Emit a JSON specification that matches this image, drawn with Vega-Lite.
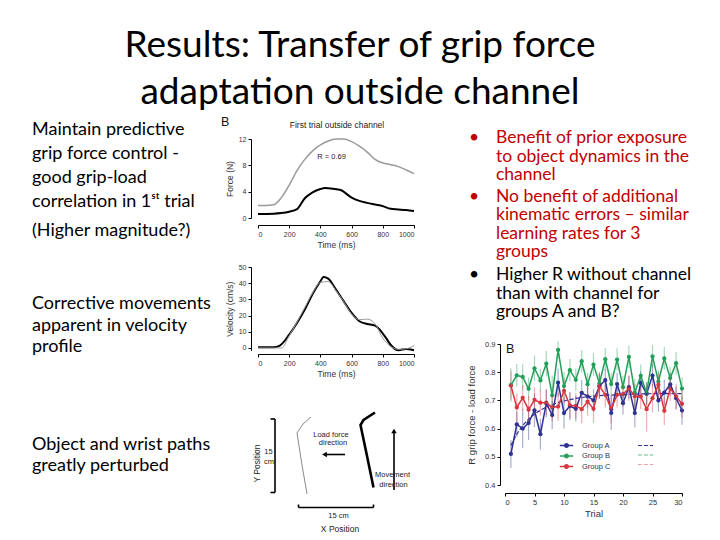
{
  "$schema": "https://vega.github.io/schema/vega-lite/v6.json",
  "width": 720,
  "height": 540,
  "autosize": {"type": "none"},
  "padding": 0,
  "background": "white",
  "config": {
    "view": {"stroke": null},
    "scale": {"pointPadding": 0},
    "axis": {
      "grid": false, "domainColor": "#000", "tickColor": "#000", "tickSize": 3,
      "labelColor": "#333", "titleColor": "#333", "labelFont": "Liberation Sans", "titleFont": "Liberation Sans",
      "labelFontSize": 7, "titleFontSize": 8.5, "titleFontWeight": "normal", "labelPadding": 2
    },
    "text": {"font": "Lato"}
  },
  "resolve": {"scale": {"x": "independent", "y": "independent", "color": "independent", "strokeWidth": "independent", "shape": "independent"}},
  "datasets": {
    "force": [
      {"t": 0, "f": 1.9, "s": "Load force"}, {"t": 50, "f": 1.9, "s": "Load force"}, {"t": 100, "f": 2.0, "s": "Load force"},
      {"t": 150, "f": 3.1, "s": "Load force"}, {"t": 200, "f": 5.0, "s": "Load force"}, {"t": 250, "f": 7.2, "s": "Load force"},
      {"t": 300, "f": 8.9, "s": "Load force"}, {"t": 350, "f": 10.2, "s": "Load force"}, {"t": 400, "f": 11.1, "s": "Load force"},
      {"t": 450, "f": 11.7, "s": "Load force"}, {"t": 500, "f": 12.0, "s": "Load force"}, {"t": 550, "f": 12.0, "s": "Load force"},
      {"t": 600, "f": 11.6, "s": "Load force"}, {"t": 650, "f": 10.9, "s": "Load force"}, {"t": 700, "f": 10.0, "s": "Load force"},
      {"t": 750, "f": 8.9, "s": "Load force"}, {"t": 800, "f": 8.35, "s": "Load force"}, {"t": 850, "f": 8.1, "s": "Load force"},
      {"t": 900, "f": 7.8, "s": "Load force"}, {"t": 950, "f": 7.3, "s": "Load force"}, {"t": 1000, "f": 6.75, "s": "Load force"},
      {"t": 0, "f": 0.62, "s": "Grip force"}, {"t": 100, "f": 0.66, "s": "Grip force"}, {"t": 150, "f": 0.75, "s": "Grip force"},
      {"t": 200, "f": 0.95, "s": "Grip force"}, {"t": 250, "f": 1.35, "s": "Grip force"}, {"t": 300, "f": 3.0, "s": "Grip force"},
      {"t": 350, "f": 3.9, "s": "Grip force"}, {"t": 400, "f": 4.4, "s": "Grip force"}, {"t": 430, "f": 4.55, "s": "Grip force"},
      {"t": 480, "f": 4.45, "s": "Grip force"}, {"t": 530, "f": 4.25, "s": "Grip force"}, {"t": 600, "f": 3.1, "s": "Grip force"},
      {"t": 650, "f": 2.6, "s": "Grip force"}, {"t": 700, "f": 2.3, "s": "Grip force"}, {"t": 750, "f": 2.05, "s": "Grip force"},
      {"t": 800, "f": 1.8, "s": "Grip force"}, {"t": 850, "f": 1.4, "s": "Grip force"}, {"t": 900, "f": 1.3, "s": "Grip force"},
      {"t": 950, "f": 1.2, "s": "Grip force"}, {"t": 1000, "f": 1.05, "s": "Grip force"}
    ],
    "velocity": [
      {"t": 0, "v": 0.5, "s": "First trial"}, {"t": 100, "v": 0.5, "s": "First trial"}, {"t": 140, "v": 1.5, "s": "First trial"},
      {"t": 200, "v": 8.2, "s": "First trial"}, {"t": 250, "v": 15.4, "s": "First trial"}, {"t": 300, "v": 23.7, "s": "First trial"},
      {"t": 350, "v": 33.3, "s": "First trial"}, {"t": 400, "v": 41.2, "s": "First trial"}, {"t": 420, "v": 43.8, "s": "First trial"},
      {"t": 450, "v": 42.8, "s": "First trial"}, {"t": 500, "v": 36, "s": "First trial"}, {"t": 550, "v": 28.8, "s": "First trial"},
      {"t": 600, "v": 21.6, "s": "First trial"}, {"t": 650, "v": 16.5, "s": "First trial"}, {"t": 700, "v": 14.8, "s": "First trial"},
      {"t": 750, "v": 13.8, "s": "First trial"}, {"t": 780, "v": 11.3, "s": "First trial"}, {"t": 820, "v": 6.2, "s": "First trial"},
      {"t": 850, "v": 2, "s": "First trial"}, {"t": 900, "v": -1.4, "s": "First trial"}, {"t": 950, "v": -0.6, "s": "First trial"},
      {"t": 1000, "v": -1.4, "s": "First trial"},
      {"t": 0, "v": 0, "s": "Reference"}, {"t": 150, "v": 0, "s": "Reference"}, {"t": 200, "v": 7.5, "s": "Reference"},
      {"t": 250, "v": 16, "s": "Reference"}, {"t": 300, "v": 25, "s": "Reference"}, {"t": 350, "v": 34, "s": "Reference"},
      {"t": 400, "v": 40.5, "s": "Reference"}, {"t": 450, "v": 41, "s": "Reference"}, {"t": 500, "v": 35.5, "s": "Reference"},
      {"t": 550, "v": 28.5, "s": "Reference"}, {"t": 600, "v": 21, "s": "Reference"}, {"t": 650, "v": 17.5, "s": "Reference"},
      {"t": 700, "v": 17.8, "s": "Reference"}, {"t": 750, "v": 15, "s": "Reference"}, {"t": 800, "v": 6, "s": "Reference"},
      {"t": 850, "v": 1, "s": "Reference"}, {"t": 900, "v": -0.8, "s": "Reference"}, {"t": 950, "v": -0.5, "s": "Reference"},
      {"t": 1000, "v": 1.5, "s": "Reference"}
    ],
    "paths": [
      {"p": "Object", "i": 1, "x": 13.2, "y": 9.6}, {"p": "Object", "i": 2, "x": 12.2, "y": 15.4}, {"p": "Object", "i": 3, "x": 11.2, "y": 21.8},
      {"p": "Object", "i": 4, "x": 12.4, "y": 23.6}, {"p": "Object", "i": 5, "x": 14.0, "y": 25.0},
      {"p": "Wrist", "i": 1, "x": 26.5, "y": 10.9}, {"p": "Wrist", "i": 2, "x": 25.1, "y": 17.7}, {"p": "Wrist", "i": 3, "x": 23.9, "y": 23.4},
      {"p": "Wrist", "i": 4, "x": 24.5, "y": 24.4}, {"p": "Wrist", "i": 5, "x": 26.8, "y": 25.9}
    ],
    "segments": [
      {"x": 6.8, "y": 9.9, "x2": 6.8, "y2": 24.6}, {"x": 5.9, "y": 24.6, "x2": 6.8, "y2": 24.6}, {"x": 5.9, "y": 9.9, "x2": 6.8, "y2": 9.9},
      {"x": 11.5, "y": 6.9, "x2": 26.5, "y2": 6.9}, {"x": 11.5, "y": 6.9, "x2": 11.5, "y2": 7.5}, {"x": 26.5, "y": 6.9, "x2": 26.5, "y2": 7.5},
      {"x": 20.8, "y": 17.5, "x2": 17.0, "y2": 17.5}, {"x": 30.6, "y": 10.4, "x2": 30.6, "y2": 21.8}
    ],
    "heads": [
      {"x": 16.7, "y": 17.5, "dir": "left"}, {"x": 30.6, "y": 22.2, "dir": "up"}
    ],
    "pathLabels": [
      {"x": 19.5, "y": 5.3, "label": "15 cm"}, {"x": 5.5, "y": 18.1, "label": "15"}, {"x": 5.6, "y": 16.1, "label": "cm"},
      {"x": 18.0, "y": 21.4, "label": "Load force"}, {"x": 18.4, "y": 19.8, "label": "direction"},
      {"x": 30.3, "y": 13.4, "label": "Movement"}, {"x": 30.5, "y": 11.4, "label": "direction"}
    ],
    "rdata": [
      {"trial": 1, "g": "Group A", "r": 0.51, "se": 0.05}, {"trial": 2, "g": "Group A", "r": 0.615, "se": 0.045}, {"trial": 3, "g": "Group A", "r": 0.6, "se": 0.07},
      {"trial": 4, "g": "Group A", "r": 0.62, "se": 0.06}, {"trial": 5, "g": "Group A", "r": 0.665, "se": 0.06}, {"trial": 6, "g": "Group A", "r": 0.58, "se": 0.055},
      {"trial": 7, "g": "Group A", "r": 0.69, "se": 0.05}, {"trial": 8, "g": "Group A", "r": 0.648, "se": 0.05}, {"trial": 9, "g": "Group A", "r": 0.763, "se": 0.05},
      {"trial": 10, "g": "Group A", "r": 0.655, "se": 0.055}, {"trial": 11, "g": "Group A", "r": 0.68, "se": 0.05}, {"trial": 12, "g": "Group A", "r": 0.67, "se": 0.045},
      {"trial": 13, "g": "Group A", "r": 0.727, "se": 0.045}, {"trial": 14, "g": "Group A", "r": 0.714, "se": 0.04}, {"trial": 15, "g": "Group A", "r": 0.70, "se": 0.04},
      {"trial": 16, "g": "Group A", "r": 0.75, "se": 0.045}, {"trial": 17, "g": "Group A", "r": 0.772, "se": 0.04}, {"trial": 18, "g": "Group A", "r": 0.655, "se": 0.06},
      {"trial": 19, "g": "Group A", "r": 0.758, "se": 0.04}, {"trial": 20, "g": "Group A", "r": 0.69, "se": 0.04}, {"trial": 21, "g": "Group A", "r": 0.747, "se": 0.04},
      {"trial": 22, "g": "Group A", "r": 0.655, "se": 0.05}, {"trial": 23, "g": "Group A", "r": 0.763, "se": 0.04}, {"trial": 24, "g": "Group A", "r": 0.723, "se": 0.04},
      {"trial": 25, "g": "Group A", "r": 0.788, "se": 0.04}, {"trial": 26, "g": "Group A", "r": 0.70, "se": 0.04}, {"trial": 27, "g": "Group A", "r": 0.728, "se": 0.045},
      {"trial": 28, "g": "Group A", "r": 0.757, "se": 0.04}, {"trial": 29, "g": "Group A", "r": 0.708, "se": 0.04}, {"trial": 30, "g": "Group A", "r": 0.664, "se": 0.05},
      {"trial": 1, "g": "Group B", "r": 0.754, "se": 0.06}, {"trial": 2, "g": "Group B", "r": 0.789, "se": 0.04}, {"trial": 3, "g": "Group B", "r": 0.783, "se": 0.045},
      {"trial": 4, "g": "Group B", "r": 0.741, "se": 0.04}, {"trial": 5, "g": "Group B", "r": 0.814, "se": 0.045}, {"trial": 6, "g": "Group B", "r": 0.771, "se": 0.04},
      {"trial": 7, "g": "Group B", "r": 0.83, "se": 0.045}, {"trial": 8, "g": "Group B", "r": 0.718, "se": 0.07}, {"trial": 9, "g": "Group B", "r": 0.879, "se": 0.03},
      {"trial": 10, "g": "Group B", "r": 0.751, "se": 0.05}, {"trial": 11, "g": "Group B", "r": 0.807, "se": 0.04}, {"trial": 12, "g": "Group B", "r": 0.773, "se": 0.04},
      {"trial": 13, "g": "Group B", "r": 0.839, "se": 0.04}, {"trial": 14, "g": "Group B", "r": 0.757, "se": 0.04}, {"trial": 15, "g": "Group B", "r": 0.827, "se": 0.04},
      {"trial": 16, "g": "Group B", "r": 0.76, "se": 0.04}, {"trial": 17, "g": "Group B", "r": 0.846, "se": 0.04}, {"trial": 18, "g": "Group B", "r": 0.758, "se": 0.04},
      {"trial": 19, "g": "Group B", "r": 0.845, "se": 0.04}, {"trial": 20, "g": "Group B", "r": 0.747, "se": 0.04}, {"trial": 21, "g": "Group B", "r": 0.854, "se": 0.04},
      {"trial": 22, "g": "Group B", "r": 0.728, "se": 0.05}, {"trial": 23, "g": "Group B", "r": 0.787, "se": 0.04}, {"trial": 24, "g": "Group B", "r": 0.726, "se": 0.04},
      {"trial": 25, "g": "Group B", "r": 0.856, "se": 0.04}, {"trial": 26, "g": "Group B", "r": 0.767, "se": 0.04}, {"trial": 27, "g": "Group B", "r": 0.849, "se": 0.04},
      {"trial": 28, "g": "Group B", "r": 0.779, "se": 0.04}, {"trial": 29, "g": "Group B", "r": 0.832, "se": 0.04}, {"trial": 30, "g": "Group B", "r": 0.742, "se": 0.04},
      {"trial": 1, "g": "Group C", "r": 0.753, "se": 0.05}, {"trial": 2, "g": "Group C", "r": 0.675, "se": 0.05}, {"trial": 3, "g": "Group C", "r": 0.709, "se": 0.045},
      {"trial": 4, "g": "Group C", "r": 0.667, "se": 0.05}, {"trial": 5, "g": "Group C", "r": 0.702, "se": 0.045}, {"trial": 6, "g": "Group C", "r": 0.692, "se": 0.045},
      {"trial": 7, "g": "Group C", "r": 0.692, "se": 0.045}, {"trial": 8, "g": "Group C", "r": 0.675, "se": 0.05}, {"trial": 9, "g": "Group C", "r": 0.678, "se": 0.05},
      {"trial": 10, "g": "Group C", "r": 0.734, "se": 0.045}, {"trial": 11, "g": "Group C", "r": 0.682, "se": 0.045}, {"trial": 12, "g": "Group C", "r": 0.681, "se": 0.045},
      {"trial": 13, "g": "Group C", "r": 0.669, "se": 0.05}, {"trial": 14, "g": "Group C", "r": 0.696, "se": 0.05}, {"trial": 15, "g": "Group C", "r": 0.67, "se": 0.05},
      {"trial": 16, "g": "Group C", "r": 0.751, "se": 0.045}, {"trial": 17, "g": "Group C", "r": 0.72, "se": 0.045}, {"trial": 18, "g": "Group C", "r": 0.669, "se": 0.05},
      {"trial": 19, "g": "Group C", "r": 0.72, "se": 0.045}, {"trial": 20, "g": "Group C", "r": 0.722, "se": 0.045}, {"trial": 21, "g": "Group C", "r": 0.743, "se": 0.045},
      {"trial": 22, "g": "Group C", "r": 0.714, "se": 0.045}, {"trial": 23, "g": "Group C", "r": 0.714, "se": 0.045}, {"trial": 24, "g": "Group C", "r": 0.669, "se": 0.08},
      {"trial": 25, "g": "Group C", "r": 0.708, "se": 0.05}, {"trial": 26, "g": "Group C", "r": 0.755, "se": 0.045}, {"trial": 27, "g": "Group C", "r": 0.663, "se": 0.05},
      {"trial": 28, "g": "Group C", "r": 0.743, "se": 0.045}, {"trial": 29, "g": "Group C", "r": 0.714, "se": 0.045}, {"trial": 30, "g": "Group C", "r": 0.688, "se": 0.05}
    ],
    "rfit": [
      {"trial": 1, "g": "Group A", "fg": "Group A", "r": 0.54}, {"trial": 2, "g": "Group A", "fg": "Group A", "r": 0.58}, {"trial": 3, "g": "Group A", "fg": "Group A", "r": 0.61},
      {"trial": 4, "g": "Group A", "fg": "Group A", "r": 0.633}, {"trial": 5, "g": "Group A", "fg": "Group A", "r": 0.651}, {"trial": 6, "g": "Group A", "fg": "Group A", "r": 0.665},
      {"trial": 7, "g": "Group A", "fg": "Group A", "r": 0.676}, {"trial": 8, "g": "Group A", "fg": "Group A", "r": 0.685}, {"trial": 9, "g": "Group A", "fg": "Group A", "r": 0.692},
      {"trial": 10, "g": "Group A", "fg": "Group A", "r": 0.698}, {"trial": 12, "g": "Group A", "fg": "Group A", "r": 0.707}, {"trial": 14, "g": "Group A", "fg": "Group A", "r": 0.713},
      {"trial": 16, "g": "Group A", "fg": "Group A", "r": 0.717}, {"trial": 18, "g": "Group A", "fg": "Group A", "r": 0.719}, {"trial": 20, "g": "Group A", "fg": "Group A", "r": 0.721},
      {"trial": 23, "g": "Group A", "fg": "Group A", "r": 0.723}, {"trial": 26, "g": "Group A", "fg": "Group A", "r": 0.724}, {"trial": 30, "g": "Group A", "fg": "Group A", "r": 0.724}
    ]
  },
  "layer": [
    {
      "data": {"values": [{"line": 1, "text": "Results: Transfer of grip force"}, {"line": 2, "text": "adaptation outside channel"}]},
      "mark": {"type": "text", "fontSize": 37, "color": "#000", "baseline": "middle"},
      "encoding": {
        "y": {"field": "line", "type": "ordinal", "axis": null, "scale": {"type": "point", "padding": 0, "range": [46, 93]}},
        "text": {"field": "text"}
      }
    },
    {
      "data": {"values": [
        {"col": "left", "line": 1, "text": "Maintain predictive"}, {"col": "left", "line": 2, "text": "grip force control -"},
        {"col": "left", "line": 3, "text": "good grip-load"}, {"col": "left", "line": 4, "text": "correlation in 1ˢᵗ trial"}]},
      "mark": {"type": "text", "fontSize": 18, "color": "#000", "align": "left", "baseline": "middle"},
      "encoding": {
        "x": {"field": "col", "type": "nominal", "axis": null, "scale": {"type": "point", "padding": 0, "range": [32, 32]}},
        "y": {"field": "line", "type": "ordinal", "axis": null, "scale": {"type": "point", "padding": 0, "range": [130, 202]}},
        "text": {"field": "text"}
      }
    },
    {
      "data": {"values": [{"col": "left", "line": 1, "text": "(Higher magnitude?)"}]},
      "mark": {"type": "text", "fontSize": 18, "color": "#000", "align": "left", "baseline": "middle"},
      "encoding": {
        "x": {"field": "col", "type": "nominal", "axis": null, "scale": {"type": "point", "padding": 0, "range": [32, 32]}},
        "y": {"field": "line", "type": "ordinal", "axis": null, "scale": {"type": "point", "padding": 0, "range": [231, 231]}},
        "text": {"field": "text"}
      }
    },
    {
      "data": {"values": [
        {"col": "left", "line": 1, "text": "Corrective movements"}, {"col": "left", "line": 2, "text": "apparent in velocity"},
        {"col": "left", "line": 3, "text": "profile"}]},
      "mark": {"type": "text", "fontSize": 18, "color": "#000", "align": "left", "baseline": "middle"},
      "encoding": {
        "x": {"field": "col", "type": "nominal", "axis": null, "scale": {"type": "point", "padding": 0, "range": [32, 32]}},
        "y": {"field": "line", "type": "ordinal", "axis": null, "scale": {"type": "point", "padding": 0, "range": [304, 347]}},
        "text": {"field": "text"}
      }
    },
    {
      "data": {"values": [{"col": "left", "line": 1, "text": "Object and wrist paths"}, {"col": "left", "line": 2, "text": "greatly perturbed"}]},
      "mark": {"type": "text", "fontSize": 18, "color": "#000", "align": "left", "baseline": "middle"},
      "encoding": {
        "x": {"field": "col", "type": "nominal", "axis": null, "scale": {"type": "point", "padding": 0, "range": [32, 32]}},
        "y": {"field": "line", "type": "ordinal", "axis": null, "scale": {"type": "point", "padding": 0, "range": [445, 466]}},
        "text": {"field": "text"}
      }
    },
    {
      "data": {"values": [
        {"line": 1, "col": "bullet", "text": "•"},
        {"line": 1, "col": "text", "text": "Benefit of prior exposure"},
        {"line": 2, "col": "text", "text": "to object dynamics in the"},
        {"line": 3, "col": "text", "text": "channel"}]},
      "mark": {"type": "text", "fontSize": 17.5, "color": "#C00000", "align": "left", "baseline": "middle"},
      "encoding": {
        "x": {"field": "col", "type": "nominal", "axis": null, "scale": {"type": "point", "padding": 0, "domain": ["bullet", "text"], "range": [469, 496]}},
        "y": {"field": "line", "type": "ordinal", "axis": null, "scale": {"type": "point", "padding": 0, "range": [138, 175]}},
        "text": {"field": "text"}
      }
    },
    {
      "data": {"values": [
        {"line": 1, "col": "bullet", "text": "•"},
        {"line": 1, "col": "text", "text": "No benefit of additional"},
        {"line": 2, "col": "text", "text": "kinematic errors – similar"},
        {"line": 3, "col": "text", "text": "learning rates for 3"},
        {"line": 4, "col": "text", "text": "groups"}]},
      "mark": {"type": "text", "fontSize": 17.5, "color": "#C00000", "align": "left", "baseline": "middle"},
      "encoding": {
        "x": {"field": "col", "type": "nominal", "axis": null, "scale": {"type": "point", "padding": 0, "domain": ["bullet", "text"], "range": [469, 496]}},
        "y": {"field": "line", "type": "ordinal", "axis": null, "scale": {"type": "point", "padding": 0, "range": [197, 252]}},
        "text": {"field": "text"}
      }
    },
    {
      "data": {"values": [
        {"line": 1, "col": "bullet", "text": "•"},
        {"line": 1, "col": "text", "text": "Higher R without channel"},
        {"line": 2, "col": "text", "text": "than with channel for"},
        {"line": 3, "col": "text", "text": "groups A and B?"}]},
      "mark": {"type": "text", "fontSize": 17.5, "color": "#000000", "align": "left", "baseline": "middle"},
      "encoding": {
        "x": {"field": "col", "type": "nominal", "axis": null, "scale": {"type": "point", "padding": 0, "domain": ["bullet", "text"], "range": [469, 496]}},
        "y": {"field": "line", "type": "ordinal", "axis": null, "scale": {"type": "point", "padding": 0, "range": [275, 312]}},
        "text": {"field": "text"}
      }
    },
    {
      "data": {"values": [{"panel": "force", "label": "B"}, {"panel": "grip", "label": "B"}]},
      "mark": {"type": "text", "font": "Liberation Sans", "fontSize": 12.5, "color": "#111", "align": "left", "baseline": "middle"},
      "encoding": {
        "x": {"field": "panel", "type": "nominal", "axis": null, "scale": {"type": "point", "padding": 0, "domain": ["force", "grip"], "range": [221, 506]}},
        "y": {"field": "panel", "type": "nominal", "axis": null, "scale": {"type": "point", "padding": 0, "domain": ["force", "grip"], "range": [122, 349]}},
        "text": {"field": "label"}
      }
    },
    {
      "data": {"values": [{"panel": "force", "label": "First trial outside channel"}]},
      "mark": {"type": "text", "font": "Liberation Sans", "fontSize": 8.5, "color": "#222", "align": "center", "baseline": "middle"},
      "encoding": {
        "x": {"field": "panel", "type": "nominal", "axis": null, "scale": {"type": "point", "padding": 0, "range": [337, 337]}},
        "y": {"field": "panel", "type": "nominal", "axis": null, "scale": {"type": "point", "padding": 0, "range": [125, 125]}},
        "text": {"field": "label"}
      }
    },
    {
      "layer": [
        {
          "data": {"name": "force"},
          "mark": {"type": "line", "interpolate": "monotone"},
          "encoding": {
            "x": {"field": "t", "type": "quantitative", "scale": {"domain": [0, 1000], "range": [258, 414]},
              "axis": {"orient": "bottom", "offset": -315, "title": "Time (ms)", "values": [0, 200, 400, 600, 800, 1000], "format": "d", "titlePadding": 3}},
            "y": {"field": "f", "type": "quantitative", "scale": {"domain": [0, 12], "range": [218, 139]},
              "axis": {"orient": "left", "offset": -251, "title": "Force (N)", "values": [0, 4, 8, 12], "titlePadding": 4}},
            "color": {"field": "s", "type": "nominal", "scale": {"domain": ["Load force", "Grip force"], "range": ["#9a9a9a", "#000000"]}, "legend": null},
            "strokeWidth": {"field": "s", "type": "nominal", "scale": {"domain": ["Load force", "Grip force"], "range": [1.5, 2]}, "legend": null}
          }
        },
        {
          "data": {"values": [{"t": 380, "f": 9.3, "label": "R = 0.69"}]},
          "mark": {"type": "text", "font": "Liberation Sans", "fontSize": 7.5, "color": "#222", "align": "left", "baseline": "middle"},
          "encoding": {
            "x": {"field": "t", "type": "quantitative"},
            "y": {"field": "f", "type": "quantitative"},
            "text": {"field": "label"}
          }
        }
      ]
    },
    {
      "data": {"name": "velocity"},
      "mark": {"type": "line", "interpolate": "monotone"},
      "encoding": {
        "x": {"field": "t", "type": "quantitative", "scale": {"domain": [0, 1000], "range": [258, 414]},
          "axis": {"orient": "bottom", "offset": -186, "title": "Time (ms)", "values": [0, 200, 400, 600, 800, 1000], "format": "d", "titlePadding": 3}},
        "y": {"field": "v", "type": "quantitative", "scale": {"domain": [-1.5, 50], "range": [350.4, 267]},
          "axis": {"orient": "left", "offset": -251, "title": "Velocity (cm/s)", "values": [0, 10, 20, 30, 40, 50], "titlePadding": 4}},
        "color": {"field": "s", "type": "nominal", "scale": {"domain": ["Reference", "First trial"], "range": ["#9a9a9a", "#000000"]}, "legend": null},
        "strokeWidth": {"field": "s", "type": "nominal", "scale": {"domain": ["Reference", "First trial"], "range": [1, 2]}, "legend": null}
      }
    },
    {
      "encoding": {
        "x": {"field": "x", "type": "quantitative", "scale": {"domain": [0, 38], "range": [241, 431]}, "axis": null},
        "y": {"field": "y", "type": "quantitative", "scale": {"domain": [0, 28.6], "range": [542, 399]}, "axis": null}
      },
      "layer": [
        {
          "data": {"name": "paths"},
          "mark": {"type": "line"},
          "encoding": {
            "order": {"field": "i", "type": "quantitative"},
            "color": {"field": "p", "type": "nominal", "scale": {"domain": ["Object", "Wrist"], "range": ["#8a8a8a", "#000000"]}, "legend": null},
            "strokeWidth": {"field": "p", "type": "nominal", "scale": {"domain": ["Object", "Wrist"], "range": [1, 2.6]}, "legend": null}
          }
        },
        {
          "data": {"name": "segments"},
          "mark": {"type": "rule", "color": "#000", "strokeWidth": 1.6},
          "encoding": {"x2": {"field": "x2"}, "y2": {"field": "y2"}}
        },
        {
          "data": {"name": "heads"},
          "mark": {"type": "point", "filled": true, "color": "#000", "size": 30, "opacity": 1},
          "encoding": {
            "shape": {"field": "dir", "type": "nominal", "scale": {"domain": ["left", "up"], "range": ["triangle-left", "triangle-up"]}, "legend": null}
          }
        },
        {
          "data": {"name": "pathLabels"},
          "mark": {"type": "text", "font": "Liberation Sans", "fontSize": 7.5, "color": "#222", "baseline": "middle"},
          "encoding": {"text": {"field": "label"}}
        },
        {
          "data": {"values": [{"x": 19.8, "y": 2.7, "label": "X Position"}]},
          "mark": {"type": "text", "font": "Liberation Sans", "fontSize": 8.5, "color": "#222", "baseline": "middle"},
          "encoding": {"text": {"field": "label"}}
        },
        {
          "data": {"values": [{"x": 3.1, "y": 15.7, "label": "Y Position"}]},
          "mark": {"type": "text", "font": "Liberation Sans", "fontSize": 8.5, "color": "#222", "baseline": "middle", "angle": 270},
          "encoding": {"text": {"field": "label"}}
        }
      ]
    },
    {
      "encoding": {
        "x": {"field": "trial", "type": "quantitative", "scale": {"domain": [0, 30], "range": [505, 682]},
          "axis": {"orient": "bottom", "offset": -47, "title": "Trial", "values": [0, 5, 10, 15, 20, 25, 30], "labelFontSize": 7.5, "titleFontSize": 9.5, "titlePadding": 3}},
        "y": {"field": "r", "type": "quantitative", "scale": {"domain": [0.4, 0.9], "range": [485, 344]},
          "axis": {"orient": "left", "offset": -500, "title": "R grip force - load force", "values": [0.4, 0.5, 0.6, 0.7, 0.8, 0.9], "format": ".1f", "labelFontSize": 7.5, "titleFontSize": 9.5, "titlePadding": 8}},
        "color": {"field": "g", "type": "nominal", "title": null,
          "scale": {"domain": ["Group A", "Group B", "Group C"], "range": ["#2E3192", "#22A05A", "#D9363E"]},
          "legend": {"orient": "none", "legendX": 561, "legendY": 440, "labelFont": "Liberation Sans", "labelFontSize": 7.5, "labelColor": "#333",
            "symbolType": "M-1.4,0H-0.4M0.4,0H1.4M-0.4,0A0.4,0.4 0 1,0 0.4,0A0.4,0.4 0 1,0 -0.4,0Z", "symbolSize": 90, "symbolStrokeWidth": 1.3,
            "symbolOpacity": 1, "rowPadding": 0.5, "labelOffset": 10}}
      },
      "layer": [
        {
          "data": {"name": "rdata"},
          "mark": {"type": "point", "filled": true, "size": 18, "opacity": 1}
        },
        {
          "data": {"name": "rdata"},
          "mark": {"type": "errorbar", "opacity": 0.4, "thickness": 1.2},
          "encoding": {"yError": {"field": "se"}}
        },
        {
          "data": {"name": "rfit"},
          "mark": {"type": "line", "strokeWidth": 1.2, "interpolate": "monotone"},
          "encoding": {
            "stroke": {"field": "fg", "type": "nominal", "title": null,
              "scale": {"domain": ["Group A", "Group B", "Group C"], "range": ["#2E3192", "#5CC08A", "#F0A0A8"]},
              "legend": {"orient": "none", "legendX": 640, "legendY": 440, "labelExpr": "''", "labelFontSize": 7.5,
                "symbolType": "M-1.6,0H1.6", "symbolSize": 90, "symbolStrokeWidth": 1.1, "symbolOpacity": 1, "rowPadding": 0.5}},
            "strokeDash": {"field": "fg", "type": "nominal", "title": null,
              "scale": {"domain": ["Group A", "Group B", "Group C"], "range": [[4, 2], [4, 2], [4, 2]]},
              "legend": {"orient": "none", "legendX": 640, "legendY": 440, "labelExpr": "''", "labelFontSize": 7.5,
                "symbolType": "M-1.6,0H1.6", "symbolSize": 90, "symbolStrokeWidth": 1.1, "symbolOpacity": 1, "rowPadding": 0.5}}
          }
        },
        {
          "data": {"name": "rdata"},
          "mark": {"type": "line", "strokeWidth": 1.5}
        }
      ]
    }
  ]
}
